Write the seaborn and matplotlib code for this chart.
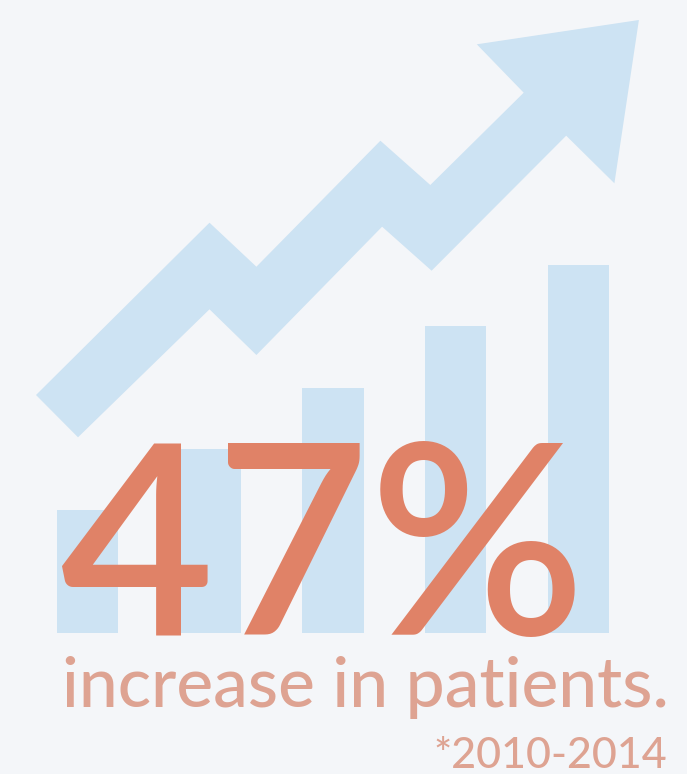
import numpy as np
import pandas as pd
import matplotlib
matplotlib.use("Agg")
import matplotlib.pyplot as plt
import seaborn as sns

# data
years = ["2010", "2011", "2012", "2013", "2014"]
patients = [2.0, 3.0, 4.0, 5.0, 6.0]   # relative bar heights

# arrow outline (pixel coords, y measured from top)
arrow_x = [36, 209.5, 256.4, 380.4, 430.3, 523.7, 476.8, 638.9, 614.4, 566.2, 431.6, 382.1, 256.4, 209.5, 78]
arrow_y = [395, 222.7, 266.7, 140.7, 185, 92.7, 44.3, 20, 183.3, 135.7, 270.7, 226.7, 355, 309.3, 437.3]

big_label = "47%"
sub_label = "increase in patients."
note_label = "*2010-2014"

bg = "#F4F6F9"
blue = "#CDE3F3"
orange = "#E08267"
salmon = "#DEA392"

W, H = 687, 774
sns.set_theme(style="white")
plt.rcParams['font.family'] = ['Lato', 'DejaVu Sans']

fig = plt.figure(figsize=(W / 100, H / 100), dpi=100, facecolor=bg)

# bars: axes spans the whole figure, limits chosen so bars land in place
ax_bars = fig.add_axes([0, 0, 1, 1])
ax_bars.set_facecolor(bg)
df = pd.DataFrame({"year": years, "patients": patients})
sns.barplot(data=df, x="year", y="patients", color=blue, saturation=1,
            width=0.5, linewidth=0, ax=ax_bars)
unit_x = 122.75
ax_bars.set_xlim(-87.5 / unit_x, (W - 87.5) / unit_x)
unit_y = 61.33
base = H - 633
ax_bars.set_ylim(-base / unit_y, (H - base) / unit_y)
ax_bars.axis("off")

# overlay in pixel coordinates for arrow and text
ax = fig.add_axes([0, 0, 1, 1])
ax.set_xlim(0, W)
ax.set_ylim(H, 0)
ax.patch.set_alpha(0)
ax.axis("off")

ax.fill(arrow_x, arrow_y, color=blue, lw=0)

ax.text(323, 635, big_label, ha="center", va="baseline", color=orange,
        fontsize=192, fontweight="semibold")
ax.text(669, 707, sub_label, ha="right", va="baseline", color=salmon,
        fontsize=50, fontweight="medium")
ax.text(667, 768, note_label, ha="right", va="baseline", color=salmon,
        fontsize=31, fontweight="medium")

fig.savefig("out.png", dpi=100, facecolor=bg)
